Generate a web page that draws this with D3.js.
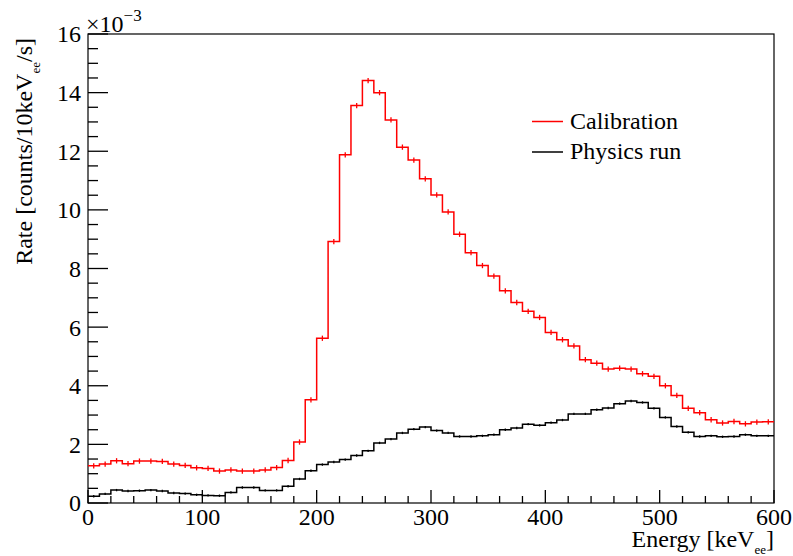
<!DOCTYPE html>
<html>
<head>
<meta charset="utf-8">
<script src="https://cdn.jsdelivr.net/npm/d3@7"></script>
<style>
  html, body { margin: 0; padding: 0; background: #fff; }
</style>
</head>
<body>
<svg id="chart" width="793" height="556" font-family="'Liberation Serif', 'Times New Roman', 'DejaVu Serif', serif"></svg>
<script>
// Bin edges: 0..600 keV in 10 keV bins
const binWidth = 10;
const xDomain = [0, 600];
const yDomain = [0, 16]; // in units of 1e-3
const xTickValues = [0, 100, 200, 300, 400, 500, 600];
const yTickValues = [0, 2, 4, 6, 8, 10, 12, 14, 16];

// Rate per bin (x 10^-3 counts/10keVee/s)
const calibration = [
  1.27, 1.33, 1.44, 1.34, 1.43, 1.43, 1.42, 1.33, 1.28, 1.20,
  1.18, 1.09, 1.13, 1.09, 1.09, 1.13, 1.21, 1.45, 2.08, 3.52,
  5.62, 8.92, 11.88, 13.56, 14.41, 14.00, 13.07, 12.14, 11.70, 11.06,
  10.51, 9.93, 9.17, 8.54, 8.10, 7.74, 7.24, 6.84, 6.54, 6.33,
  5.82, 5.57, 5.36, 4.89, 4.77, 4.57, 4.60, 4.57, 4.41, 4.32,
  4.00, 3.67, 3.23, 3.08, 2.84, 2.73, 2.78, 2.70, 2.76, 2.77
];
const physics = [
  0.23, 0.31, 0.44, 0.41, 0.42, 0.44, 0.41, 0.34, 0.32, 0.28,
  0.26, 0.25, 0.36, 0.53, 0.53, 0.43, 0.43, 0.57, 0.82, 1.10,
  1.31, 1.40, 1.48, 1.62, 1.78, 2.05, 2.18, 2.39, 2.52, 2.59,
  2.47, 2.39, 2.27, 2.27, 2.29, 2.33, 2.50, 2.56, 2.69, 2.65,
  2.74, 2.83, 3.04, 3.04, 3.18, 3.24, 3.39, 3.48, 3.43, 3.23,
  2.92, 2.61, 2.41, 2.27, 2.29, 2.26, 2.27, 2.33, 2.29, 2.29
];
// statistical error (x 10^-3), per series
const calibrationErr = 0.09;
const physicsErr = 0.04;

const seriesNames = ["Calibration", "Physics run"];
const seriesColors = ["#ff0000", "#000000"];

const margin = { left: 88, right: 19, top: 34, bottom: 53 };
const W = 793, H = 556;
const svg = d3.select("#chart");

const x = d3.scaleLinear().domain(xDomain).range([margin.left, W - margin.right]);
const y = d3.scaleLinear().domain(yDomain).range([H - margin.bottom, margin.top]);

// frame
svg.append("rect")
  .attr("x", x(xDomain[0])).attr("y", y(yDomain[1]))
  .attr("width", x(xDomain[1]) - x(xDomain[0]))
  .attr("height", y(yDomain[0]) - y(yDomain[1]))
  .attr("fill", "none").attr("stroke", "#000").attr("stroke-width", 1.2);

// histograms
function drawHist(vals, err, color) {
  const g = svg.append("g");
  let d = "";
  vals.forEach((v, i) => {
    const x0 = x(i * binWidth), x1 = x((i + 1) * binWidth);
    const yy = y(v);
    d += (i === 0 ? `M${x0},${yy}` : `L${x0},${yy}`) + `L${x1},${yy}`;
  });
  g.append("path").attr("d", d).attr("fill", "none")
    .attr("stroke", color).attr("stroke-width", 1.5);
  g.selectAll("line.err").data(vals).enter().append("line")
    .attr("x1", (v, i) => x((i + 0.5) * binWidth))
    .attr("x2", (v, i) => x((i + 0.5) * binWidth))
    .attr("y1", v => y(v - err))
    .attr("y2", v => y(v + err))
    .attr("stroke", color).attr("stroke-width", 1.3);
}
drawHist(calibration, calibrationErr, seriesColors[0]);
drawHist(physics, physicsErr, seriesColors[1]);

// X axis (ticks drawn inward)
const gx = svg.append("g").attr("transform", `translate(0,${y(0)})`);
const xMinor = d3.range(xDomain[0], xDomain[1] + 0.001, 20);
gx.selectAll("line.tk").data(xMinor).enter().append("line")
  .attr("x1", d => x(d)).attr("x2", d => x(d))
  .attr("y1", 0).attr("y2", d => (d % 100 === 0 ? -13 : -7))
  .attr("stroke", "#000").attr("stroke-width", 1.3);
gx.selectAll("text.tl").data(xTickValues).enter().append("text")
  .attr("x", d => x(d)).attr("y", 22)
  .attr("text-anchor", "middle").attr("font-size", 24)
  .text(d => d3.format("d")(d));

// Y axis ticks
const gy = svg.append("g");
const yMinor = d3.range(yDomain[0], yDomain[1] + 0.001, 0.5);
gy.selectAll("line.tk").data(yMinor).enter().append("line")
  .attr("x1", x(0)).attr("x2", d => x(0) + (d % 2 === 0 ? 20 : 10))
  .attr("y1", d => y(d)).attr("y2", d => y(d))
  .attr("stroke", "#000").attr("stroke-width", 1.3);
gy.selectAll("text.tl").data(yTickValues).enter().append("text")
  .attr("x", x(0) - 7).attr("y", d => y(d)).attr("dy", "0.35em")
  .attr("text-anchor", "end").attr("font-size", 24)
  .text(d => d3.format("d")(d));

// exponent
const ex = svg.append("text").attr("x", 86).attr("y", 32).attr("font-size", 24);
ex.append("tspan").text("\u00d710");
ex.append("tspan").attr("dy", -11).attr("font-size", 17).text("\u22123");

// axis titles
const xt = svg.append("text").attr("x", x(xDomain[1])).attr("y", 547)
  .attr("text-anchor", "end").attr("font-size", 24);
xt.append("tspan").text("Energy [keV");
xt.append("tspan").attr("dy", 7).attr("font-size", 13).text("ee");
xt.append("tspan").attr("dy", -7).text("]");

const yt = svg.append("text")
  .attr("transform", `translate(32,${y(yDomain[1]) + 4}) rotate(-90)`)
  .attr("text-anchor", "end").attr("font-size", 24);
yt.append("tspan").text("Rate [counts/10keV");
yt.append("tspan").attr("dy", 8).attr("font-size", 13).text("ee");
yt.append("tspan").attr("dy", -8).text("/s]");

// legend
const legendY = [121.5, 152];
seriesNames.forEach((name, i) => {
  svg.append("line").attr("x1", 532).attr("x2", 563)
    .attr("y1", legendY[i]).attr("y2", legendY[i])
    .attr("stroke", seriesColors[i]).attr("stroke-width", 1.5);
  svg.append("text").attr("x", 570).attr("y", legendY[i]).attr("dy", "0.3em")
    .attr("font-size", 24).text(name);
});
</script>
</body>
</html>
